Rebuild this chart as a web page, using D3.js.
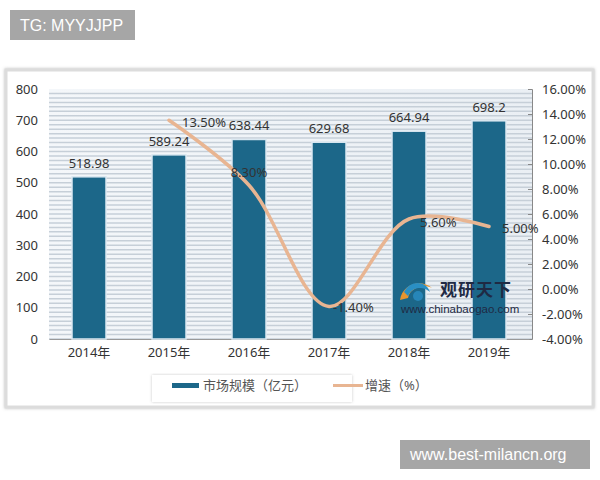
<!DOCTYPE html>
<html><head><meta charset="utf-8">
<script src="https://cdn.jsdelivr.net/npm/d3@7/dist/d3.min.js"></script>
<style>body{margin:0;background:#fff}svg{display:block}</style>
</head><body>
<svg id="c" width="600" height="480"></svg>
<script>
const years = ["2014年","2015年","2016年","2017年","2018年","2019年"];
const marketSize = [518.98, 589.24, 638.44, 629.68, 664.94, 698.2];
const marketLabels = ["518.98","589.24","638.44","629.68","664.94","698.2"];
const growthYears = ["2015年","2016年","2017年","2018年","2019年"];
const growth = [13.5, 8.3, -1.4, 5.6, 5.0];
const growthLabels = ["13.50%","8.30%","-1.40%","5.60%","5.00%"];
const leftTicks = [0,100,200,300,400,500,600,700,800];
const rightTicks = [-4,-2,0,2,4,6,8,10,12,14,16];
const legendNames = ["市场规模（亿元）","增速（%）"];

const svg = d3.select("#c");
const font = "'Noto Sans','Noto Sans CJK SC',sans-serif";

// top-left tag
svg.append("rect").attr("x",10).attr("y",10).attr("width",125).attr("height",30).attr("fill","#a6a6a6");
svg.append("text").attr("x",20).attr("y",31).attr("fill","#fff").attr("font-family","'Liberation Sans',Arial,sans-serif").attr("font-size",16).text("TG: MYYJJPP");

// panel with shadow border
const defs = svg.append("defs");
const f = defs.append("filter").attr("id","sh").attr("x","-5%").attr("y","-5%").attr("width","110%").attr("height","110%");
f.append("feDropShadow").attr("dx",0).attr("dy",0).attr("stdDeviation",1.5).attr("flood-color","#999").attr("flood-opacity",0.6);
svg.append("rect").attr("x",6).attr("y",70).attr("width",587).attr("height",337).attr("fill","#fff").attr("stroke","#dcdcdc").attr("stroke-width",3).attr("filter","url(#sh)");

const x = d3.scaleBand().domain(years).range([49,529]).paddingInner(0.575).paddingOuter(0.2875);
const yL = d3.scaleLinear().domain([0,800]).range([339,89]);
const yR = d3.scaleLinear().domain([-4,16]).range([339,89]);

// plot background
const bgGrad = defs.append("linearGradient").attr("id","bg").attr("x1",0).attr("x2",1).attr("y1",0).attr("y2",0);
bgGrad.append("stop").attr("offset","0%").attr("stop-color","#f4f7fa");
bgGrad.append("stop").attr("offset","100%").attr("stop-color","#eaeff4");
svg.append("rect").attr("x",49).attr("y",89).attr("width",483).attr("height",250).attr("fill","url(#bg)");
const minor = d3.range(0,800,800/56);
svg.append("g").selectAll("line").data(minor).join("line")
  .attr("x1",49).attr("x2",532).attr("y1",d=>yL(d)).attr("y2",d=>yL(d))
  .attr("stroke","#c6cfd8").attr("stroke-width",1.5);

// left axis
const gL = svg.append("g").attr("transform","translate(44,0)")
  .call(d3.axisLeft(yL).tickValues(leftTicks).tickSize(0).tickPadding(6));
gL.select(".domain").remove();
gL.selectAll("text").attr("font-family",font).attr("font-size",13).attr("fill","#333");

// right axis
const gR = svg.append("g").attr("transform","translate(532,0)")
  .call(d3.axisRight(yR).tickValues(rightTicks).tickSize(-4).tickPadding(10).tickFormat(d=>d.toFixed(2)+"%"));
gR.select(".domain").attr("stroke","#888");
gR.selectAll(".tick line").attr("stroke","#888");
gR.selectAll("text").attr("font-family",font).attr("font-size",13).attr("fill","#333");

// bottom axis
const gB = svg.append("g").attr("transform","translate(0,339)")
  .call(d3.axisBottom(x).tickSize(0).tickPadding(9));
gB.select(".domain").attr("stroke","#999").attr("stroke-width",1.2);
gB.selectAll("text").attr("font-family",font).attr("font-size",13).attr("fill","#333");

// bars
svg.append("g").selectAll("rect").data(marketSize).join("rect")
  .attr("x",(d,i)=>x(years[i])).attr("width",x.bandwidth())
  .attr("y",d=>yL(d)).attr("height",d=>yL(0)-yL(d))
  .attr("fill","#1c6789").attr("stroke","#dbe9f2").attr("stroke-width",1.5);
svg.append("g").selectAll("text").data(marketSize).join("text")
  .attr("x",(d,i)=>x(years[i])+x.bandwidth()/2).attr("y",d=>yL(d)-9)
  .attr("text-anchor","middle").attr("font-family",font).attr("font-size",13).attr("fill","#333")
  .text((d,i)=>marketLabels[i]);

// watermark
const wm = svg.append("g");
wm.append("path").attr("d","M400,300 C402,285 420,278 432,288 C425,284 410,287 408,298 Z").attr("fill","#e8952f");
wm.append("path").attr("d","M404,292 C410,280 426,280 430,292 C424,286 412,286 408,296 Z").attr("fill","#2a8fc4");
wm.append("circle").attr("cx",418).attr("cy",296).attr("r",5).attr("fill","#2a8fc4").attr("opacity",0.8);
wm.append("text").attr("x",440).attr("y",296).attr("font-family","'Noto Sans CJK SC',sans-serif").attr("font-weight","bold").attr("font-size",17).attr("fill","#1f2a44").attr("letter-spacing",1).text("观研天下");
wm.append("text").attr("x",401).attr("y",313).attr("font-family","'Liberation Sans',Arial,sans-serif").attr("font-size",11.5).attr("fill","#1f2a44").text("www.chinabaogao.com");

// growth line
const cx = d=>x(d)+x.bandwidth()/2;
const line = d3.line().x((d,i)=>cx(growthYears[i])).y(d=>yR(d)).curve(d3.curveCatmullRom.alpha(0.5));
svg.append("path").datum(growth).attr("d",line).attr("fill","none").attr("stroke","#e8b592").attr("stroke-width",3.5).attr("stroke-linecap","round");

const off = [[13,7,"start"],[0,-8,"middle"],[4,5,"start"],[11,8,"start"],[13,6,"start"]];
svg.append("g").selectAll("text").data(growth).join("text")
  .attr("x",(d,i)=>cx(growthYears[i])+off[i][0]).attr("y",(d,i)=>yR(d)+off[i][1])
  .attr("text-anchor",(d,i)=>off[i][2]).attr("font-family",font).attr("font-size",13).attr("fill","#333")
  .text((d,i)=>growthLabels[i]);

// legend
svg.append("rect").attr("x",152).attr("y",375).attr("width",200).attr("height",27).attr("fill","#fff").attr("filter","url(#sh)").attr("opacity",0.9);
svg.append("rect").attr("x",172).attr("y",383).attr("width",27).attr("height",5).attr("fill","#1c6789");
svg.append("text").attr("x",203).attr("y",390).attr("font-family",font).attr("font-size",13).attr("fill","#555").text(legendNames[0]);
svg.append("line").attr("x1",333).attr("x2",363).attr("y1",385.5).attr("y2",385.5).attr("stroke","#e8b592").attr("stroke-width",3);
svg.append("text").attr("x",365).attr("y",390).attr("font-family",font).attr("font-size",13).attr("fill","#555").text(legendNames[1]);

// bottom-right tag
svg.append("rect").attr("x",400).attr("y",440).attr("width",190).attr("height",29).attr("fill","#a6a6a6");
svg.append("text").attr("x",410).attr("y",460).attr("fill","#fff").attr("font-family","'Liberation Sans',Arial,sans-serif").attr("font-size",16).text("www.best-milancn.org");
</script>
</body></html>
